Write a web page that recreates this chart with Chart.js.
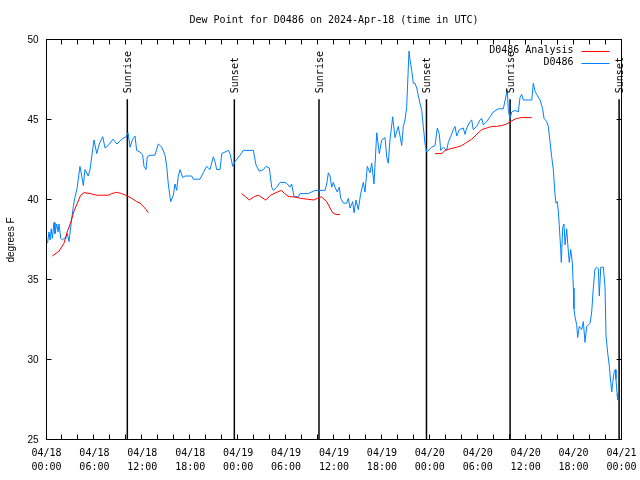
<!DOCTYPE html>
<html>
<head>
<meta charset="utf-8">
<script src="https://cdn.jsdelivr.net/npm/chart.js@4.4.1/dist/chart.umd.min.js"></script>
<style>
  html, body { margin: 0; padding: 0; background: #fff; }
  canvas { display: block; }
</style>
</head>
<body>
<canvas id="dewChart" width="640" height="480"></canvas>
<script>
const stationName = 'D0486';
const chartTitle = 'Dew Point for D0486 on 2024-Apr-18 (time in UTC)';
const dayLabels = ['04/18', '04/19', '04/20', '04/21'];
const yMin = 25;
const yMax = 50;

// observed dew point, hours since 04/18 00:00 UTC
const obsHours = [
    0.13, 0.31, 0.44, 0.60, 0.73, 0.94, 1.06, 1.28, 1.44, 1.57, 1.78, 1.98, 2.19, 2.40, 2.60, 2.82,
    3.03, 3.23, 3.36, 3.53, 3.82, 4.19, 4.41, 4.61, 4.82, 5.23, 5.45, 5.66, 5.95, 6.29, 6.61, 7.04,
    7.33, 7.70, 8.33, 8.83, 9.42, 9.96, 10.21, 10.46, 10.79, 11.08, 11.29, 11.71, 12.05, 12.21, 12.46, 12.62,
    12.96, 13.58, 14.00, 14.43, 14.84, 15.05, 15.25, 15.55, 15.88, 16.09, 16.30, 16.50, 16.72, 17.06, 17.34, 18.18,
    18.38, 19.22, 19.63, 20.06, 20.47, 20.89, 21.10, 21.31, 21.73, 21.94, 22.77, 22.98, 23.32, 23.61, 24.23, 24.64,
    25.90, 26.23, 26.65, 27.15, 27.49, 27.90, 28.20, 28.40, 28.83, 29.24, 29.87, 30.15, 30.49, 30.70, 30.99, 31.53,
    31.74, 32.37, 32.78, 33.62, 34.16, 34.87, 35.09, 35.29, 35.50, 35.71, 35.91, 36.12, 36.41, 36.66, 36.84, 37.17,
    37.59, 37.79, 38.01, 38.34, 38.51, 38.76, 39.04, 39.34, 39.67, 39.88, 40.17, 40.51, 40.72, 41.01, 41.35, 41.67,
    41.97, 42.39, 42.60, 42.80, 43.01, 43.35, 43.64, 44.05, 44.48, 44.68, 44.89, 45.10, 45.39, 45.51, 45.73, 45.93,
    46.14, 46.36, 46.56, 46.98, 47.18, 47.40, 47.61, 47.81, 48.24, 48.65, 48.94, 49.19, 49.36, 49.69, 50.11, 50.31,
    50.61, 50.94, 51.15, 51.37, 51.69, 52.19, 52.41, 52.62, 53.03, 53.24, 53.44, 53.87, 54.28, 54.50, 54.70, 55.12,
    55.54, 55.95, 56.58, 57.20, 57.54, 57.70, 57.83, 58.04, 58.25, 58.66, 59.08, 59.29, 59.50, 59.70, 60.76, 60.96,
    61.17, 61.38, 61.80, 62.13, 62.30, 62.63, 62.84, 63.26, 63.46, 63.68, 63.80, 63.96, 64.09, 64.21, 64.39, 64.46,
    64.64, 64.80, 64.93, 65.14, 65.26, 65.46, 65.64, 65.84, 65.97, 66.05, 66.18, 66.39, 66.51, 66.72, 67.02, 67.22,
    67.43, 67.64, 67.84, 68.06, 68.27, 68.47, 68.68, 68.90, 69.10, 69.22, 69.40, 69.73, 69.94, 70.06, 70.28, 70.48,
    70.65, 70.78, 70.90, 71.10, 71.23, 71.31, 71.44, 71.53, 71.73
];
const obsValues = [
    37.3, 38.0, 37.5, 38.2, 37.6, 38.6, 37.9, 38.5, 38.0, 38.5, 37.6, 37.5, 37.6, 37.6, 37.9, 37.4,
    38.3, 39.1, 39.6, 40.1, 40.7, 42.1, 41.5, 40.9, 41.9, 41.5, 41.9, 42.7, 43.75, 42.9, 43.5, 43.96,
    43.25, 43.4, 43.8, 43.5, 43.8, 43.96, 44.2, 43.3, 43.8, 44.0, 43.1, 43.0, 42.8, 42.1, 41.9, 42.7,
    42.8, 42.8, 43.5, 43.3, 42.8, 42.1, 41.0, 39.9, 40.3, 41.0, 40.6, 41.5, 41.9, 41.4, 41.5, 41.5,
    41.3, 41.3, 41.7, 42.1, 41.9, 42.7, 42.4, 41.9, 41.9, 42.9, 43.1, 42.9, 42.1, 42.4, 42.8, 43.1,
    43.1, 42.2, 41.8, 41.9, 42.1, 42.0, 40.8, 40.6, 40.8, 41.1, 41.1, 41.0, 40.8, 41.0, 40.2, 40.2,
    40.4, 40.4, 40.4, 40.6, 40.6, 40.6, 41.0, 41.7, 41.5, 40.8, 41.1, 40.8, 40.5, 40.8, 40.1, 39.8,
    39.8, 40.1, 39.5, 39.9, 39.2, 40.0, 39.4, 40.4, 41.1, 40.5, 42.1, 41.7, 42.3, 41.0, 44.2, 42.9,
    43.75, 43.9, 42.7, 42.3, 43.75, 45.2, 43.9, 44.6, 43.4, 44.6, 45.0, 45.8, 49.3, 48.8, 48.1, 47.3,
    47.3, 47.0, 46.5, 45.6, 44.6, 43.5, 43.0, 43.1, 43.3, 43.4, 44.5, 44.1, 43.1, 43.3, 43.1, 43.6,
    43.96, 44.4, 44.6, 44.0, 44.4, 44.5, 44.1, 44.5, 44.9, 45.0, 44.4, 44.6, 45.0, 45.1, 44.7, 44.9,
    45.2, 45.5, 45.7, 45.7, 46.5, 46.9, 45.6, 45.1, 45.5, 45.6, 45.5, 46.4, 46.6, 46.25, 46.25, 47.3,
    46.8, 46.6, 46.25, 45.7, 45.1, 44.9, 44.6, 42.7, 41.9, 40.3, 39.8, 39.9, 39.3, 38.4, 36.9, 36.1,
    38.3, 38.5, 37.2, 38.2, 37.3, 36.1, 36.9, 36.1, 34.5, 33.2, 32.7, 32.2, 31.4, 32.1, 31.9, 32.4,
    31.1, 32.1, 32.2, 32.3, 33.0, 34.5, 35.7, 35.8, 35.7, 34.0, 35.8, 35.8, 34.5, 31.5, 30.4, 29.6,
    28.6, 28.0, 28.6, 29.3, 29.4, 28.8, 27.9, 27.5, 27.5
];

// analysis, null marks a gap between runs
const analysisHours = [
    0.73, 1.57, 2.19, 2.60, 3.03, 3.44, 3.86, 4.28, 4.70, 5.45, 6.29, 7.74, 8.16, 8.79, 9.42, 10.12,
    10.67, 11.29, 11.71, 12.12, 12.46, 12.75, 18.0,
    24.42, 24.96, 25.38, 26.00, 26.50, 26.83, 27.45, 28.07, 28.91, 29.41, 29.82, 30.36, 30.99, 31.82, 32.65, 33.49,
    33.91, 34.41, 35.09, 35.50, 35.84, 36.25, 36.75, 42.0,
    48.65, 49.49, 49.90, 50.53, 51.37, 51.99, 52.62, 53.24, 53.87, 54.50, 55.12, 55.75, 56.37, 57.00, 57.62, 58.25,
    58.87, 59.50, 60.76
];
const analysisValues = [
    36.5, 36.8, 37.3, 38.0, 38.6, 39.3, 39.8, 40.3, 40.46, 40.4, 40.3, 40.3, 40.4, 40.48, 40.4, 40.25,
    40.1, 39.9, 39.8, 39.6, 39.4, 39.2, null,
    40.4, 40.2, 40.0, 40.2, 40.3, 40.2, 40.0, 40.3, 40.5, 40.6, 40.4, 40.2, 40.2, 40.1, 40.05, 40.0,
    40.1, 40.2, 39.9, 39.5, 39.2, 39.1, 39.1, null,
    42.9, 42.9, 43.1, 43.2, 43.3, 43.4, 43.6, 43.8, 44.1, 44.4, 44.5, 44.6, 44.6, 44.65, 44.75, 44.95,
    45.1, 45.15, 45.15
];

const sunHours = [10.12, 23.52, 34.12, 47.58, 58.05, 71.7];
const sunLabels = ['Sunrise', 'Sunset', 'Sunrise', 'Sunset', 'Sunrise', 'Sunset'];
const sunLineTop = 46.3;

const monoFont = '"DejaVu Sans Mono", monospace';
const sansFont = '"Liberation Sans", Arial, sans-serif';

function toPoints(xs, ys) {
    return xs.map((x, i) => ({ x: x, y: ys[i] }));
}

function sunLinePoints() {
    const pts = [];
    sunHours.forEach(h => {
        pts.push({ x: h, y: sunLineTop }, { x: h, y: yMin }, { x: h, y: null });
    });
    return pts;
}

function formatHourTick(value) {
    if (value % 6 !== 0) return '';
    const day = dayLabels[Math.floor(value / 24)];
    const hh = String(value % 24).padStart(2, '0');
    return [day, hh + ':00'];
}

const framePlugin = {
    id: 'frame',
    afterDatasetsDraw(chart) {
        const { ctx, chartArea: a, scales } = chart;
        const left = Math.round(a.left) - 0.5;
        const top = Math.round(a.top) - 0.5;
        const right = Math.round(a.right) - 0.5;
        const bottom = Math.round(a.bottom) - 0.5;
        ctx.save();
        ctx.strokeStyle = '#000';
        ctx.lineWidth = 1;
        ctx.beginPath();
        scales.x.ticks.forEach(t => {
            const px = Math.round(scales.x.getPixelForValue(t.value)) - 0.5;
            ctx.moveTo(px, bottom); ctx.lineTo(px, bottom - 5);
            ctx.moveTo(px, top); ctx.lineTo(px, top + 5);
        });
        scales.y.ticks.forEach(t => {
            const py = Math.round(scales.y.getPixelForValue(t.value)) - 0.5;
            ctx.moveTo(left, py); ctx.lineTo(left + 5, py);
            ctx.moveTo(right, py); ctx.lineTo(right - 5, py);
        });
        ctx.stroke();
        ctx.strokeRect(left, top, right - left, bottom - top);

        // sunrise / sunset labels, reading upwards from just above each line
        ctx.fillStyle = '#000';
        ctx.font = '10px ' + monoFont;
        ctx.textAlign = 'left';
        ctx.textBaseline = 'middle';
        sunHours.forEach((h, i) => {
            const px = scales.x.getPixelForValue(h) + 1;
            const py = scales.y.getPixelForValue(sunLineTop) - 6;
            ctx.save();
            ctx.translate(px, py);
            ctx.rotate(-Math.PI / 2);
            ctx.fillText(sunLabels[i], 0, 0);
            ctx.restore();
        });

        // legend, top right inside the plot
        const items = chart.data.datasets.filter(d => d.label);
        items.forEach((d, i) => {
            const y = a.top + 10.5 + i * 12;
            ctx.textAlign = 'right';
            ctx.fillStyle = '#000';
            ctx.fillText(d.label, a.right - 48, y);
            ctx.strokeStyle = d.borderColor;
            ctx.lineWidth = 1;
            ctx.beginPath();
            ctx.moveTo(a.right - 40, Math.round(y) + 0.5);
            ctx.lineTo(a.right - 12, Math.round(y) + 0.5);
            ctx.stroke();
        });
        ctx.restore();
    }
};

new Chart(document.getElementById('dewChart'), {
    type: 'line',
    data: {
        datasets: [
            {
                label: stationName + ' Analysis',
                data: toPoints(analysisHours, analysisValues),
                borderColor: '#ff0000',
                borderWidth: 1,
                pointRadius: 0,
                spanGaps: false,
                order: 1
            },
            {
                label: stationName,
                data: toPoints(obsHours, obsValues),
                borderColor: '#0080ff',
                borderWidth: 1,
                pointRadius: 0,
                order: 2
            },
            {
                data: sunLinePoints(),
                borderColor: '#000000',
                borderWidth: 1.5,
                pointRadius: 0,
                spanGaps: false,
                order: 3
            }
        ]
    },
    options: {
        responsive: false,
        animation: false,
        layout: { padding: { left: 0, right: 18.5, top: 0, bottom: 0 } },
        plugins: {
            legend: { display: false },
            tooltip: { enabled: false },
            title: {
                display: true,
                fullSize: false,
                text: chartTitle,
                color: '#000',
                font: { family: monoFont, size: 10, weight: 'normal', lineHeight: 1.2 },
                padding: { top: 14, bottom: 14 }
            }
        },
        scales: {
            x: {
                type: 'linear',
                min: 0,
                max: 72,
                afterFit(scale) {
                    scale.height = 40;
                    scale.paddingLeft = 0;
                    scale.paddingRight = 0;
                },
                grid: { display: false, drawTicks: false },
                border: { display: false },
                ticks: {
                    stepSize: 2,
                    autoSkip: false,
                    maxRotation: 0,
                    padding: 6,
                    color: '#000',
                    font: { family: monoFont, size: 10, lineHeight: 1.4 },
                    callback: formatHourTick
                }
            },
            y: {
                min: yMin,
                max: yMax,
                afterFit(scale) { scale.width = 46.5; },
                grid: { display: false, drawTicks: false },
                border: { display: false },
                ticks: {
                    stepSize: 5,
                    padding: 8,
                    color: '#000',
                    font: { family: sansFont, size: 10 }
                },
                title: {
                    display: true,
                    text: 'degrees F',
                    color: '#000',
                    font: { family: sansFont, size: 10 },
                    padding: { top: 5, bottom: 0 }
                }
            }
        }
    },
    plugins: [framePlugin]
});
</script>
</body>
</html>
